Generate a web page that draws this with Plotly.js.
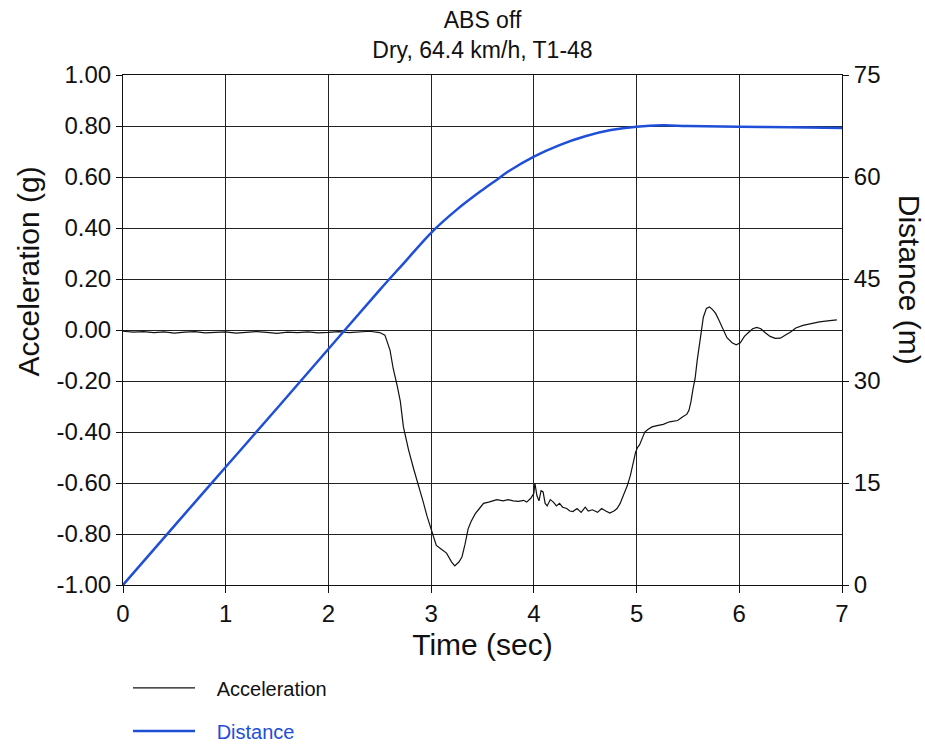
<!DOCTYPE html>
<html>
<head>
<meta charset="utf-8">
<script src="https://cdn.plot.ly/plotly-3.0.1.min.js"></script>
<style>html,body{margin:0;padding:0;background:#fff;}#chart{width:925px;height:746px;}</style>
</head>
<body>
<div id="chart"></div>
<script>
// Acceleration (g) vs time (sec)
const accTime = [0,0.1,0.2,0.3,0.4,0.5,0.6,0.7,0.8,0.9,1.0,1.1,1.2,1.3,1.4,1.5,1.6,1.7,1.8,1.9,2.0,2.1,2.2,2.3,2.4,2.5,
  2.55,2.60,2.63,2.67,2.70,2.73,2.78,2.83,2.88,2.92,2.96,2.99,3.02,3.05,3.10,3.15,3.20,3.23,3.27,3.30,3.33,3.36,3.39,3.43,3.47,3.51,3.56,3.60,3.64,3.70,3.75,3.80,3.85,3.90,3.93,3.97,
  4.00,4.01,4.03,4.05,4.07,4.09,4.11,4.13,4.16,4.19,4.22,4.25,4.28,4.32,4.35,4.38,4.42,4.46,4.50,4.53,4.57,4.62,4.66,4.70,4.74,4.78,4.81,4.84,4.87,4.91,4.94,4.97,4.99,
  5.01,5.03,5.06,5.08,5.11,5.15,5.20,5.26,5.32,5.40,5.45,5.49,5.51,5.53,5.55,5.57,5.59,5.62,5.65,5.68,5.71,5.74,5.77,5.80,5.84,5.88,5.93,5.97,
  6.01,6.05,6.09,6.13,6.17,6.21,6.25,6.30,6.35,6.40,6.45,6.50,6.55,6.62,6.70,6.78,6.86,6.95];
const accel = [-0.005,-0.008,-0.006,-0.010,-0.007,-0.012,-0.008,-0.006,-0.011,-0.009,-0.007,-0.012,-0.010,-0.006,-0.009,-0.013,-0.008,-0.010,-0.007,-0.011,-0.009,-0.006,-0.010,-0.008,-0.005,-0.010,
  -0.02,-0.08,-0.15,-0.22,-0.28,-0.38,-0.47,-0.545,-0.61,-0.67,-0.73,-0.77,-0.81,-0.845,-0.86,-0.875,-0.91,-0.925,-0.91,-0.89,-0.84,-0.78,-0.75,-0.72,-0.70,-0.68,-0.675,-0.67,-0.665,-0.67,-0.665,-0.67,-0.672,-0.668,-0.675,-0.66,
  -0.64,-0.60,-0.65,-0.67,-0.63,-0.635,-0.68,-0.69,-0.665,-0.675,-0.69,-0.68,-0.695,-0.70,-0.71,-0.712,-0.70,-0.715,-0.695,-0.71,-0.705,-0.715,-0.70,-0.71,-0.718,-0.71,-0.70,-0.68,-0.65,-0.61,-0.57,-0.52,-0.48,
  -0.46,-0.45,-0.42,-0.40,-0.39,-0.38,-0.375,-0.37,-0.36,-0.355,-0.34,-0.33,-0.315,-0.28,-0.23,-0.19,-0.12,-0.03,0.05,0.085,0.09,0.08,0.065,0.04,0.005,-0.03,-0.05,-0.058,
  -0.05,-0.025,-0.01,0.005,0.01,0.005,-0.01,-0.025,-0.033,-0.032,-0.02,-0.008,0.008,0.018,0.025,0.032,0.036,0.04];

// Distance (m) vs time (sec)
const distTime = [0,0.5,1,1.5,2,2.5,2.75,3,3.25,3.5,3.64,3.75,4,4.25,4.5,4.75,5,5.25,5.5,6,6.5,7];
const distance = [0,8.7,17.35,26.0,34.7,43.4,47.6,51.8,55.2,58.1,59.6,60.8,63.0,64.7,66.0,66.9,67.4,67.6,67.5,67.4,67.3,67.2];

const xTicks = [0,1,2,3,4,5,6,7];
const accTicks = [1.0,0.8,0.6,0.4,0.2,0.0,-0.2,-0.4,-0.6,-0.8,-1.0];
const accTickText = ['1.00','0.80','0.60','0.40','0.20','0.00','-0.20','-0.40','-0.60','-0.80','-1.00'];
const distTicks = [0,15,30,45,60,75];

const FONT = 'Liberation Sans, Arial, sans-serif';
const BLUE = '#1f4ed8';
const PAD = '&nbsp;&nbsp;&nbsp;';

const traces = [
  {x: accTime, y: accel, type: 'scatter', mode: 'lines', name: PAD + 'Acceleration',
   line: {color: '#111', width: 1.2}, yaxis: 'y', legendgroup: 'a'},
  {x: distTime, y: distance, type: 'scatter', mode: 'lines', name: PAD + '<span style="color:' + BLUE + '">Distance</span>',
   line: {color: BLUE, width: 2.5, shape: 'spline'}, yaxis: 'y2', legendgroup: 'd'}
];

const layout = {
  width: 925, height: 746,
  margin: {l: 123, r: 83, t: 75, b: 161, autoexpand: false},
  paper_bgcolor: '#fff', plot_bgcolor: '#fff',
  font: {family: FONT, color: '#111', size: 22},
  title: {text: 'ABS off<br>Dry, 64.4 km/h, T1-48', x: 0.5, xref: 'paper', y: 0.962, yref: 'container', yanchor: 'middle',
          font: {family: FONT, size: 23, color: '#111'}},
  xaxis: {range: [0, 7], tickvals: xTicks, showgrid: true, gridcolor: '#222', gridwidth: 1,
          showline: true, linecolor: '#111', linewidth: 1, mirror: true, zeroline: false,
          ticks: 'outside', ticklen: 7, tickcolor: '#111',
          tickfont: {family: FONT, size: 24, color: '#111'},
          title: {text: 'Time (sec)', font: {family: FONT, size: 30, color: '#111'}, standoff: 8}},
  yaxis: {range: [-1, 1], tickvals: accTicks, ticktext: accTickText, showgrid: true, gridcolor: '#222', gridwidth: 1,
          showline: true, linecolor: '#111', linewidth: 1, zeroline: false,
          ticks: 'outside', ticklen: 6, tickcolor: '#111',
          tickfont: {family: FONT, size: 24, color: '#111'}},
  yaxis2: {range: [0, 75], tickvals: distTicks, overlaying: 'y', side: 'right', showgrid: false,
           showline: true, linecolor: '#111', linewidth: 1, zeroline: false,
           ticks: 'outside', ticklen: 6, tickcolor: '#111',
           tickfont: {family: FONT, size: 24, color: '#111'}},
  showlegend: true,
  legend: {x: 128 / 925, xref: 'container', xanchor: 'left', y: 0.104, yref: 'container', yanchor: 'top', orientation: 'v', tracegroupgap: 14,
           font: {family: FONT, size: 20, color: '#111'}, itemwidth: 62, bgcolor: 'rgba(0,0,0,0)'},
  annotations: [
    {text: 'Acceleration (g)', xref: 'paper', yref: 'paper', x: -0.132, y: 0.615, textangle: -90,
     showarrow: false, font: {family: FONT, size: 30, color: '#111'}, xanchor: 'center', yanchor: 'middle'},
    {text: 'Distance (m)', xref: 'paper', yref: 'paper', x: 1.095, y: 0.598, textangle: 90,
     showarrow: false, font: {family: FONT, size: 30, color: '#111'}, xanchor: 'center', yanchor: 'middle'}
  ]
};

Plotly.newPlot('chart', traces, layout, {displayModeBar: false, staticPlot: true});
</script>
</body>
</html>
